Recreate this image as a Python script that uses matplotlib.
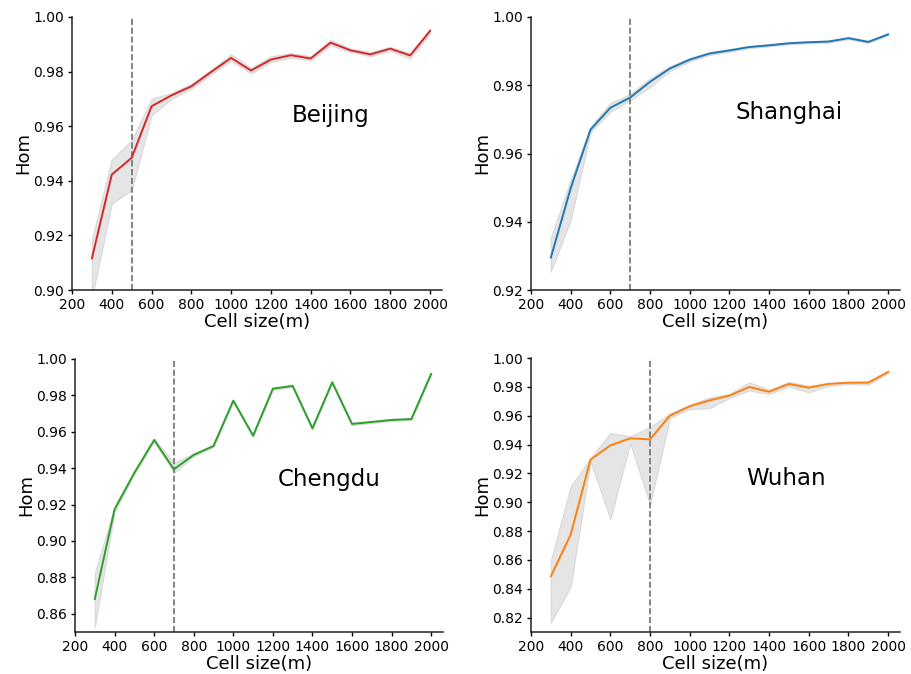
import matplotlib
matplotlib.use("Agg")
import matplotlib.pyplot as plt
import numpy as np

cell_sizes = [300, 400, 500, 600, 700, 800, 900, 1000, 1100, 1200, 1300, 1400,
              1500, 1600, 1700, 1800, 1900, 2000]

beijing_mean = [0.9116, 0.9423, 0.9484, 0.9673, 0.9713, 0.9746, 0.9799, 0.9850, 0.9804,
                0.9844, 0.9860, 0.9848, 0.9906, 0.9878, 0.9863, 0.9884, 0.9859, 0.9949]
beijing_low = [0.8970, 0.9317, 0.9366, 0.9640, 0.9700, 0.9738, 0.9790, 0.9839, 0.9793,
               0.9835, 0.9851, 0.9841, 0.9896, 0.9872, 0.9856, 0.9876, 0.9848, 0.9939]
beijing_high = [0.9185, 0.9478, 0.9549, 0.9700, 0.9722, 0.9756, 0.9807, 0.9863, 0.9813,
                0.9856, 0.9868, 0.9856, 0.9917, 0.9884, 0.9872, 0.9890, 0.9868, 0.9957]

shanghai_mean = [0.9295, 0.9498, 0.9670, 0.9734, 0.9764, 0.9810, 0.9849, 0.9875, 0.9893,
                 0.9902, 0.9912, 0.9917, 0.9923, 0.9926, 0.9928, 0.9938, 0.9927, 0.9949]
shanghai_low = [0.9254, 0.9405, 0.9663, 0.9722, 0.9756, 0.9795, 0.9842, 0.9870, 0.9889,
                0.9898, 0.9909, 0.9914, 0.9920, 0.9923, 0.9925, 0.9935, 0.9924, 0.9946]
shanghai_high = [0.9354, 0.9522, 0.9678, 0.9748, 0.9774, 0.9820, 0.9856, 0.9880, 0.9897,
                 0.9906, 0.9915, 0.9920, 0.9926, 0.9929, 0.9931, 0.9941, 0.9930, 0.9952]

chengdu_mean = [0.8681, 0.9174, 0.9375, 0.9555, 0.9394, 0.9473, 0.9522, 0.9771, 0.9579,
                0.9837, 0.9852, 0.9619, 0.9872, 0.9643, 0.9654, 0.9665, 0.9670, 0.9918]
chengdu_low = [0.8526, 0.9161, 0.9368, 0.9548, 0.9375, 0.9465, 0.9516, 0.9765, 0.9573,
               0.9831, 0.9846, 0.9613, 0.9866, 0.9637, 0.9648, 0.9659, 0.9664, 0.9912]
chengdu_high = [0.8822, 0.9189, 0.9382, 0.9562, 0.9430, 0.9481, 0.9528, 0.9777, 0.9585,
                0.9843, 0.9858, 0.9625, 0.9878, 0.9649, 0.9660, 0.9671, 0.9676, 0.9924]

wuhan_mean = [0.8486, 0.8775, 0.9295, 0.9394, 0.9443, 0.9436, 0.9600, 0.9665, 0.9706,
              0.9739, 0.9799, 0.9766, 0.9820, 0.9794, 0.9820, 0.9829, 0.9829, 0.9903]
wuhan_low = [0.8166, 0.8416, 0.9283, 0.8883, 0.9410, 0.8983, 0.9584, 0.9646, 0.9653,
             0.9723, 0.9776, 0.9750, 0.9803, 0.9762, 0.9808, 0.9820, 0.9815, 0.9896]
wuhan_high = [0.8594, 0.9110, 0.9306, 0.9480, 0.9457, 0.9521, 0.9614, 0.9676, 0.9727,
              0.9750, 0.9831, 0.9780, 0.9834, 0.9808, 0.9827, 0.9834, 0.9838, 0.9912]

cities = ["Beijing", "Shanghai", "Chengdu", "Wuhan"]
means = [beijing_mean, shanghai_mean, chengdu_mean, wuhan_mean]
lows = [beijing_low, shanghai_low, chengdu_low, wuhan_low]
highs = [beijing_high, shanghai_high, chengdu_high, wuhan_high]
thresholds = [500, 700, 700, 800]
colors = ["#d62728", "#1f77b4", "#2ca02c", "#ff7f0e"]
ylims = [(0.90, 1.00), (0.92, 1.00), (0.85, 1.00), (0.81, 1.00)]
yticks = [np.arange(0.90, 1.001, 0.02), np.arange(0.92, 1.001, 0.02),
          np.arange(0.86, 1.001, 0.02), np.arange(0.82, 1.001, 0.02)]
text_pos = [(0.70, 0.64), (0.70, 0.65), (0.69, 0.56), (0.69, 0.56)]

W, H = 912, 674
fig = plt.figure(figsize=(W / 100, H / 100), dpi=100)
boxes = [(72, 17, 442, 290), (531, 17, 900, 290), (75, 359, 443, 632), (531, 358, 900, 632)]

for i in range(4):
    x0, y0, x1, y1 = boxes[i]
    ax = fig.add_axes([x0 / W, 1 - y1 / H, (x1 - x0) / W, (y1 - y0) / H])
    ax.fill_between(cell_sizes, lows[i], highs[i], color="#e3e3e3", alpha=0.9,
                    edgecolor="#d5d5d5", linewidth=0.8, zorder=1)
    ax.plot(cell_sizes, means[i], color=colors[i], linewidth=1.4, zorder=3)
    ax.axvline(thresholds[i], color="#707070", linestyle="--", linewidth=1.2, zorder=2)
    ax.set_xlim(200, 2060)
    ax.set_ylim(*ylims[i])
    ax.set_xticks(np.arange(200, 2001, 200))
    ax.set_yticks(yticks[i])
    ax.set_yticklabels([f"{v:.2f}" for v in yticks[i]])
    ax.tick_params(labelsize=10, length=3, width=1, pad=2.5)
    for s in ["top", "right"]:
        ax.spines[s].set_visible(False)
    for s in ["left", "bottom"]:
        ax.spines[s].set_linewidth(1.1)
        ax.spines[s].set_color("#222222")
    ax.set_xlabel("Cell size(m)", fontsize=13, labelpad=1)
    ax.set_ylabel("Hom", fontsize=13, labelpad=1)
    ax.text(text_pos[i][0], text_pos[i][1], cities[i], transform=ax.transAxes,
            fontsize=16.5, ha="center", va="center")

fig.savefig("out.png", dpi=100)
